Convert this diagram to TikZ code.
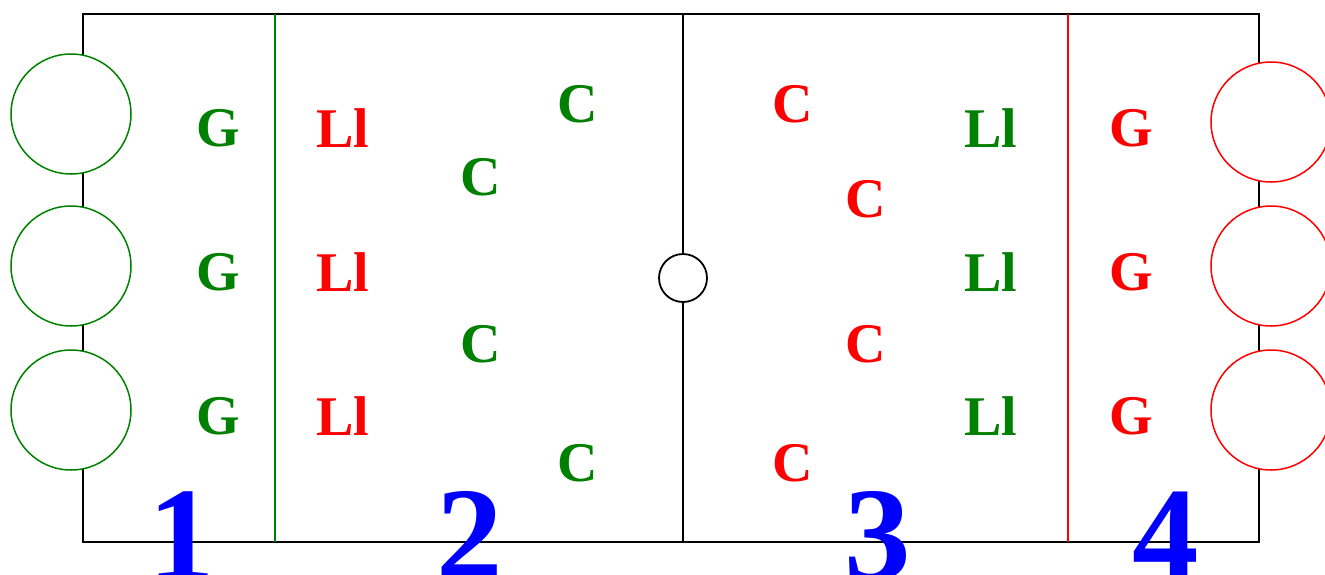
\documentclass[tikz,border=0pt]{standalone}
\usepackage{fontspec}
\setmainfont{Liberation Serif}
\definecolor{dgreen}{RGB}{0,128,0}
\begin{document}
\begin{tikzpicture}[x=1pt,y=-1pt,
  lbl/.style={font=\fontsize{56}{60}\selectfont\bfseries, inner sep=0pt},
  num/.style={font=\fontsize{133}{140}\selectfont\bfseries, text=blue, inner sep=0pt, anchor=base},
  bigcirc/.style={circle, draw, fill=white, line width=1.5pt, minimum size=120pt, inner sep=0pt},
  hub/.style={circle, draw=black, fill=white, line width=1.8pt, minimum size=48pt, inner sep=0pt}]
\useasboundingbox (0,0) rectangle (1325,574);
\clip (0,0) rectangle (1325,574);
% frame
\coordinate (tl) at (83,14);
\coordinate (br) at (1259,542);
\draw[line width=2pt] (tl) rectangle (br);
\coordinate (g1) at (275,14); \coordinate (g2) at (275,542);
\coordinate (k1) at (683,14); \coordinate (k2) at (683,542);
\coordinate (r1) at (1068,14); \coordinate (r2) at (1068,542);
\draw[dgreen, line width=1.5pt] (g1) -- (g2);
\draw[black, line width=2pt] (k1) -- (k2);
\draw[red, line width=1.5pt] (r1) -- (r2);
\node[hub] (hub) at (683,278) {};
% circles
\node[bigcirc, draw=dgreen] (lc1) at (71,114) {};
\node[bigcirc, draw=dgreen] (lc2) at (71,266) {};
\node[bigcirc, draw=dgreen] (lc3) at (71,410) {};
\node[bigcirc, draw=red] (rc1) at (1271,122) {};
\node[bigcirc, draw=red] (rc2) at (1271,266) {};
\node[bigcirc, draw=red] (rc3) at (1271,410) {};
% labels
\node[lbl, text=dgreen] (ga) at (218,128) {G};
\node[lbl, text=dgreen] (gb) at (218,272) {G};
\node[lbl, text=dgreen] (gc) at (218,416) {G};
\node[lbl, text=red] (la) at (343,128) {Ll};
\node[lbl, text=red] (lb) at (343,272) {Ll};
\node[lbl, text=red] (lc) at (343,416) {Ll};
\node[lbl, text=dgreen] (ca) at (578,104) {C};
\node[lbl, text=dgreen] (cb) at (481,177) {C};
\node[lbl, text=dgreen] (cc) at (481,344) {C};
\node[lbl, text=dgreen] (cd) at (578,463) {C};
\node[lbl, text=red] (ra) at (793,104) {C};
\node[lbl, text=red] (rb) at (866,199) {C};
\node[lbl, text=red] (rcc) at (866,344) {C};
\node[lbl, text=red] (rd) at (793,463) {C};
\node[lbl, text=dgreen] (ma) at (991,128) {Ll};
\node[lbl, text=dgreen] (mb) at (991,272) {Ll};
\node[lbl, text=dgreen] (mc) at (991,416) {Ll};
\node[lbl, text=red] (xa) at (1131,128) {G};
\node[lbl, text=red] (xb) at (1131,272) {G};
\node[lbl, text=red] (xc) at (1131,416) {G};
% numbers
\node[num] (n1) at (182,579) {1};
\node[num] (n2) at (470,579) {2};
\node[num] (n3) at (878,579) {3};
\node[num] (n4) at (1166,579) {4};
\end{tikzpicture}
\end{document}
